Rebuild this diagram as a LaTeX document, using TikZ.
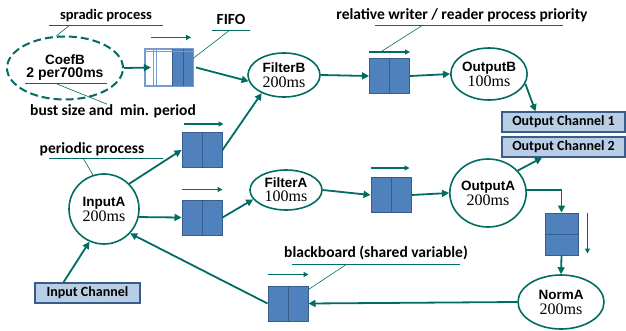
\documentclass[tikz,border=0pt]{standalone}
\usepackage{fontspec}
\usetikzlibrary{shapes.geometric,arrows.meta}
\newfontfamily\labf{Carlito}
\newfontfamily\namef{Liberation Sans}
\newfontfamily\msf{Liberation Serif}
\definecolor{tl}{RGB}{0,108,98}
\definecolor{qb}{RGB}{79,129,189}
\definecolor{qe}{RGB}{56,93,138}
\definecolor{chf}{RGB}{185,205,229}
\definecolor{lqb}{RGB}{120,155,205}
\begin{document}
\begin{tikzpicture}[x=1pt,y=-1pt,
  proc/.style={ellipse,draw=tl,line width=1.6pt,fill=white,inner sep=0pt,align=center},
  qbox/.style={rectangle,draw=qe,line width=1pt,fill=qb,inner sep=0pt,minimum width=40pt,minimum height=35pt},
  vqbox/.style={rectangle,draw=qe,line width=1pt,fill=qb,inner sep=0pt,minimum width=33pt,minimum height=42pt},
  chan/.style={rectangle,draw=qe,line width=1.4pt,fill=chf,inner sep=0pt,font=\labf\bfseries\fontsize{14}{16}\selectfont},
  arr/.style={draw=tl,line width=1.8pt,-{Triangle[length=7pt,width=7pt]}},
  sarr/.style={draw=tl,line width=1.3pt,-{Triangle[length=5pt,width=5pt]}},
  lead/.style={draw=tl,line width=0.6pt},
  ul/.style={draw=tl,line width=1pt},
  lab/.style={inner sep=0pt,font=\labf\bfseries\fontsize{15.5}{17}\selectfont},
  nmf/.style={font=\namef\bfseries\fontsize{13.5}{16}\selectfont},
  msn/.style={}
]
\useasboundingbox (0,0) rectangle (626,330);
\newcommand{\tms}[1]{{\msf\mdseries\fontsize{16}{17}\selectfont #1}}

% processes
\node[proc,draw=tl,line width=2pt,dash pattern=on 8pt off 4pt,minimum width=116pt,minimum height=63pt] (coefb) at (65,68)
  {{\namef\bfseries\fontsize{13.5}{16}\selectfont CoefB}\\[1pt]{\namef\bfseries\fontsize{14}{16}\selectfont 2 per700ms}};
\node[proc,minimum width=72pt,minimum height=44pt,nmf] (filterb) at (284,75)
  {FilterB\\[-1pt]\tms{200ms}};
\node[proc,minimum width=72pt,minimum height=52pt,nmf] (outputb) at (489,74)
  {OutputB\\[-1pt]\tms{100ms}};
\node[proc,ellipse,minimum width=70pt,minimum height=70pt,nmf] (inputa) at (104,209)
  {InputA\\[-1pt]\tms{200ms}};
\node[proc,minimum width=72pt,minimum height=40pt,nmf] (filtera) at (286,190)
  {FilterA\\[-2pt]\tms{100ms}};
\node[proc,minimum width=72pt,minimum height=68pt,nmf] (outputa) at (488,193)
  {OutputA\\[-1pt]\tms{200ms}};
\node[proc,minimum width=86pt,minimum height=54pt,nmf] (norma) at (561,302)
  {NormA\\[-1pt]\tms{200ms}};

% queues
\node[qbox] (q1) at (202,150) {};
\node[qbox] (q2) at (202,217.5) {};
\node[qbox] (q3) at (391,195) {};
\node[qbox] (q4) at (389.5,76) {};
\node[qbox] (bb) at (288,303.5) {};
\node[vqbox] (vq) at (561.5,234) {};
\foreach \q in {q1,q2,q3,q4,bb} {\draw[qe,line width=1pt] (\q.north) -- (\q.south);}
\draw[qe,line width=1pt] (vq.west) -- (vq.east);

% FIFO
\node[rectangle,draw=lqb,line width=1.2pt,fill=white,inner sep=0pt,minimum width=47pt,minimum height=37pt] (fifo) at (169,67.5) {};
\fill[qb] (172,49) rectangle (193,86);
\draw[qe,line width=1pt] (172,49) -- (172,86);
\draw[qe,line width=1pt] (183,49) -- (183,86);
\draw[lqb,line width=1pt] (153,49) -- (153,86);
\draw[lqb,line width=1pt] (156,49) -- (156,86);
\draw[lqb,line width=0.8pt] (146,51.5) -- (193,51.5);
\draw[lqb,line width=1.2pt] (fifo.north west) rectangle (fifo.south east);

% channels
\node[chan,minimum width=105pt,minimum height=20pt] (ich) at (87.5,293) {Input Channel};
\node[chan,minimum width=123pt,minimum height=20pt] (och1) at (563.5,122) {Output Channel 1};
\node[chan,minimum width=123pt,minimum height=20pt] (och2) at (563.5,147) {Output Channel 2};

% connectors
\draw[arr] (coefb.east) -- ([xshift=6pt]fifo.west);
\draw[arr] ([xshift=3pt]fifo.east) -- (filterb.190);
\draw[arr] (filterb.east) -- (q4.west);
\draw[arr] (q4.east) -- (outputb.west);
\draw[arr] (outputb.-15) -- ([xshift=-28pt]och1.north);
\draw[arr] (inputa.45) -- (q1.west);
\draw[arr] (q1.east) -- (filterb.219);
\draw[arr] (inputa.-13) -- (q2.west);
\draw[arr] (q2.east) -- (filtera.196);
\draw[arr] (filtera.east) -- (q3.west);
\draw[arr] (q3.east) -- (outputa.west);
\draw[arr] (outputa.37) -- ([xshift=-21.5pt]och2.south);
\draw[arr] (outputa.5) -| (vq.north);
\draw[arr] (vq.south) -- (norma.north);
\draw[arr] (norma.west) -- (bb.east);
\draw[arr] (bb.west) -- (inputa.-43);
\draw[arr] ([xshift=-24pt]ich.north) -- (inputa.-114);

% small direction arrows
\draw[sarr] ([yshift=11pt,xshift=6pt]fifo.north west) -- ([yshift=11pt,xshift=-2pt]fifo.north east);
\draw[sarr] ([yshift=6pt]q4.north west) -- ([yshift=6pt]q4.north east);
\draw[sarr] ([yshift=8pt,xshift=2pt]q1.north west) -- ([yshift=8pt,xshift=1pt]q1.north east);
\draw[sarr] ([yshift=10pt]q2.north west) -- ([yshift=10pt]q2.north east);
\draw[sarr] ([yshift=9pt]q3.north west) -- ([yshift=9pt,xshift=-2pt]q3.north east);
\draw[sarr] ([yshift=11pt]bb.north west) -- ([yshift=11pt]bb.north east);
\draw[sarr] ([xshift=9pt]vq.north east) -- ([xshift=9pt,yshift=2pt]vq.south east);

% labels
\node[lab,font=\labf\bfseries\fontsize{14.5}{17}\selectfont] (lsp) at (106,16) {spradic process};
\draw[ul] (49,25) -- (163,25);
\coordinate (lspc) at (70,25);
\draw[lead] (lspc) -- (coefb.105);

\draw[ul] (25,83.5) -- (107,83.5);
\node[lab] (lbust) at (113,111) {bust size and\ \ min. period};
\coordinate (lbustc) at (57,84);
\draw[lead] (lbustc) -- ([xshift=-6pt]lbust.north);

\node[lab] (lfifo) at (231,19) {FIFO};
\draw[ul] (212,30) -- (250,30);
\coordinate (lfifoc) at (230,30);
\draw[lead] (lfifoc) -- ([yshift=-10pt]fifo.north east);

\node[lab] (lrel) at (462,15) {relative writer / reader process priority};
\draw[ul] (375,25) -- (563,25);
\coordinate (lrelc) at (423,25);
\draw[lead] (lrelc) -- ([xshift=-9pt,yshift=6pt]q4.north);

\node[lab] (lper) at (92,149) {periodic process};
\draw[ul] (49,158) -- (163,158);
\coordinate (lperc) at (83,158);
\draw[lead] (lperc) -- (inputa.108);

\node[lab] (lbb) at (376,253) {blackboard (shared variable)};
\draw[ul] (292,264) -- (460,264);
\coordinate (lbbc) at (347,264);
\draw[lead] (lbbc) -- ([yshift=-4pt]bb.north east);
\end{tikzpicture}
\end{document}
